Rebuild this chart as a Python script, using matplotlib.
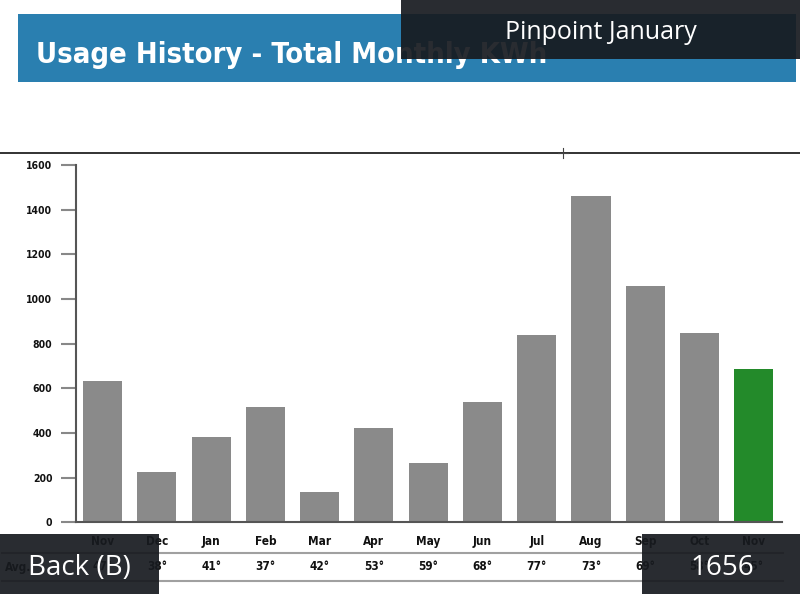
import matplotlib
matplotlib.use("Agg")
import matplotlib.pyplot as plt
from matplotlib.patches import Rectangle
from matplotlib.lines import Line2D

months = ["Nov", "Dec", "Jan", "Feb", "Mar", "Apr", "May", "Jun", "Jul", "Aug", "Sep", "Oct", "Nov"]
kwh = [632, 224, 381, 515, 134, 421, 264, 538, 838, 1461, 1058, 847, 686]
temps = ["47°", "38°", "41°", "37°", "42°", "53°", "59°", "68°", "77°", "73°", "69°", "58°", "45°"]
yticks = [0, 200, 400, 600, 800, 1000, 1200, 1400, 1600]
title = "Usage History - Total Monthly KWh"

W, H = 800, 594
NARROW = ["DejaVu Sans"]
STRETCH = "condensed"
fig = plt.figure(figsize=(W / 100, H / 100), dpi=100)
fig.patch.set_facecolor("white")


def fx(x):
    return x / W


def fy(y):
    return 1 - y / H


# title banner
fig.patches.append(Rectangle((fx(18), fy(82)), fx(796) - fx(18), fy(14) - fy(82),
                             transform=fig.transFigure, facecolor="#2a7fb0", edgecolor="none", zorder=1))
ttl = fig.text(fx(36), fy(63), title, color="white", fontsize=27, fontweight="bold",
               family=NARROW, fontstretch=STRETCH, ha="left", va="baseline", zorder=2)
# fit title width to the banner layout (about 512 px)
renderer = fig.canvas.get_renderer()
wpx = ttl.get_window_extent(renderer).width
if wpx > 512:
    ttl.set_fontsize(27 * 512 / wpx)

# separator line with crosshair
fig.add_artist(Line2D([0, 1], [fy(153), fy(153)], transform=fig.transFigure, color="#222222", lw=1.3))
fig.add_artist(Line2D([fx(563), fx(563)], [fy(148), fy(158)], transform=fig.transFigure, color="#444444", lw=0.8))
fig.add_artist(Line2D([fx(558), fx(568)], [fy(153), fy(153)], transform=fig.transFigure, color="#444444", lw=0.8))

# chart axes
ax = fig.add_axes([fx(76), fy(522.3), fx(782) - fx(76), fy(165) - fy(522.3)])
colors = ["#8a8a8a"] * (len(kwh) - 1) + ["#238a2a"]
x = list(range(len(months)))
ax.bar(x, kwh, width=0.72, color=colors, edgecolor="none", zorder=2)
ax.set_xlim(-0.49, len(months) - 1 + 0.52)
ax.set_ylim(0, 1600)
ax.set_yticks(yticks)
ax.set_yticklabels([str(v) for v in yticks], family=NARROW, fontstretch=STRETCH,
                   fontsize=7.5, fontweight="bold", color="#111111")
ax.tick_params(axis="y", length=11, width=1.5, color="#888888", pad=6)
ax.set_xticks([])
for s in ["top", "right"]:
    ax.spines[s].set_visible(False)
for s in ["left", "bottom"]:
    ax.spines[s].set_color("#555555")
    ax.spines[s].set_linewidth(1.5)

# table rows below
tfont = dict(family=NARROW, fontstretch=STRETCH, fontsize=8.5, fontweight="bold", color="#111111")
for i, (m, t) in enumerate(zip(months, temps)):
    ax.text(i, -0.055, m, transform=ax.get_xaxis_transform(), ha="center", va="center",
            clip_on=False, **tfont)
    ax.text(i, -0.125, t, transform=ax.get_xaxis_transform(), ha="center", va="center",
            clip_on=False, **tfont)
fig.text(fx(5), fy(567), "Avg.", ha="left", va="center", **tfont)
for yy in (553, 581):
    fig.add_artist(Line2D([fx(2), fx(783)], [fy(yy), fy(yy)], transform=fig.transFigure,
                          color="#a0a0a0", lw=1.5))

# dark overlay boxes
ov = (0.09, 0.10, 0.12)
for (x0, y0, x1, y1) in [(401, 0, 800, 59), (0, 534, 159, 594), (642, 534, 800, 594)]:
    fig.add_artist(Rectangle((fx(x0), fy(y1)), fx(x1) - fx(x0), fy(y0) - fy(y1),
                             transform=fig.transFigure, facecolor=ov, alpha=0.92,
                             edgecolor="none", zorder=10))
OVF = ["Open Sans", "DejaVu Sans"]
fig.text(fx(601), fy(39), "Pinpoint January", color="white", fontsize=18, family=OVF,
         ha="center", va="baseline", zorder=11)
fig.text(fx(79), fy(575), "Back (B)", color="white", fontsize=20, family=OVF,
         ha="center", va="baseline", zorder=11)
fig.text(fx(722), fy(575), "1656", color="white", fontsize=20, family=OVF,
         ha="center", va="baseline", zorder=11)

fig.savefig("out.png", dpi=100)
